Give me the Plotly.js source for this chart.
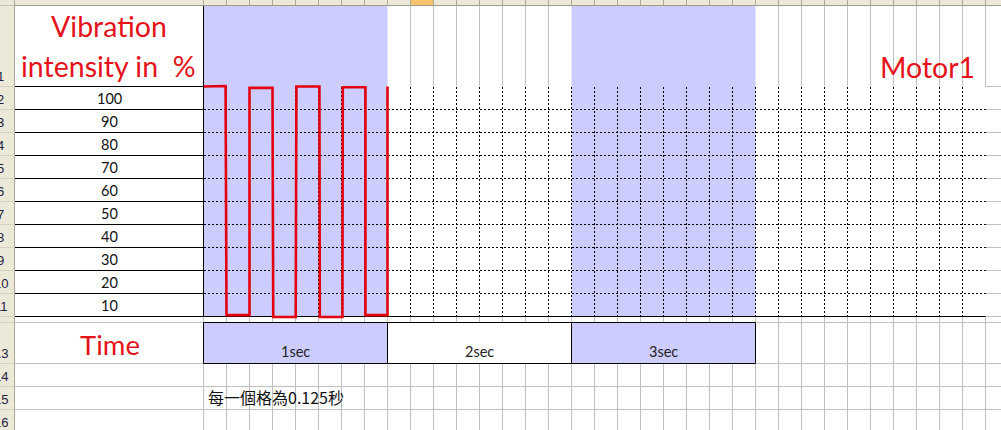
<!DOCTYPE html>
<html>
<head>
<meta charset="utf-8">
<script src="https://cdn.plot.ly/plotly-3.0.1.min.js"></script>
<style>
html,body{margin:0;padding:0;background:#ffffff;overflow:hidden;}
#chart{width:1001px;height:430px;}
</style>
</head>
<body>
<div id="chart"></div>
<script>
// ---------------- data ----------------
const intensityTicks = [100, 90, 80, 70, 60, 50, 40, 30, 20, 10];
const timeLabels = ['1sec', '2sec', '3sec'];
const timeSec = [0, 0.12, 0.125, 0.25, 0.25, 0.375, 0.379, 0.501, 0.505, 0.63, 0.632, 0.755, 0.757, 0.88, 0.88, 1.0, 1.0];
const intensityPct = [100, 100.2, 0.6, 0.6, 99.4, 99.4, -0.2, -0.2, 100, 100, -0.2, -0.2, 99.7, 99.7, 0.6, 0.6, 100];
const rowNumbers = [1, 2, 3, 4, 5, 6, 7, 8, 9, 10, 11, 12, 13, 14, 15, 16];
const yTitleLines = ['Vibration', 'intensity in\u00a0 %'];
const seriesName = 'Motor1';
const xTitle = 'Time';
const noteText = '每一個格為0.125秒';
const stepSec = 0.125;
const totalSec = 4.25;

// ---------------- geometry (pixels of the sheet) ----------------
const W = 1001, H = 430;
const GX0 = 203.5, COLW = 23, NCOL = Math.round(totalSec / stepSec);
const GY0 = 86.5, ROWH = 23, NROW = intensityTicks.length;
const GX1 = GX0 + COLW * NCOL;
const GY1 = GY0 + ROWH * NROW;
const HEADER_H = 5.5, ROWHDR_W = 14.5, COLA_C = 109;
const BOX_T = 322.5, BOX_B = 363.5;
const SEC_COLS = Math.round(1 / stepSec);
const px = x => x / W;
const py = y => 1 - y / H;

const GRAY = '#c0c0c0', LAV = '#ccccff', HDR = '#ece9d8', HDRLINE = '#aca899';
const RED = '#e5121b', INK = '#111111';

const shapes = [];
function line(x0, y0, x1, y1, color, w) {
  shapes.push({type: 'line', xref: 'paper', yref: 'paper', layer: 'below',
    x0: px(x0), y0: py(y0), x1: px(x1), y1: py(y1), line: {color: color, width: w || 1}});
}
function rect(x0, y0, x1, y1, fill) {
  shapes.push({type: 'rect', xref: 'paper', yref: 'paper', layer: 'below',
    x0: px(x0), y0: py(y0), x1: px(x1), y1: py(y1), fillcolor: fill, line: {width: 0}});
}
const colX = k => GX0 + COLW * k;

// Excel light gridlines
for (let k = 0; k <= NCOL + 1; k++) {
  const x = colX(k);
  line(x, GY1, x, H, GRAY);                      // lower rows
  const inLav = (k >= 0 && k <= SEC_COLS) || (k >= 2 * SEC_COLS && k <= 3 * SEC_COLS);
  if (!inLav) line(x, HEADER_H, x, GY0, GRAY);   // row 1
}
[BOX_T, BOX_B, 386.5, 409.5].forEach(y => line(ROWHDR_W, y, W, y, GRAY));
for (let j = 0; j <= NROW; j++) line(GX1, GY0 + ROWH * j, W, GY0 + ROWH * j, GRAY);

// lavender fills
rect(GX0, HEADER_H, colX(SEC_COLS), GY1, LAV);
rect(colX(2 * SEC_COLS), HEADER_H, colX(3 * SEC_COLS), GY1, LAV);
rect(GX0, BOX_T, colX(SEC_COLS), BOX_B, LAV);
rect(colX(SEC_COLS), BOX_T, colX(2 * SEC_COLS), BOX_B, '#ffffff');
rect(colX(2 * SEC_COLS), BOX_T, colX(3 * SEC_COLS), BOX_B, LAV);

// black borders
line(GX0, HEADER_H, GX0, GY1, '#000');
for (let j = 0; j < NROW; j++) line(ROWHDR_W, GY0 + ROWH * j, GX0, GY0 + ROWH * j, '#000');
line(ROWHDR_W, GY1, GX1, GY1, '#000');
line(GX0, BOX_T, colX(3 * SEC_COLS), BOX_T, '#000');
line(GX0, BOX_B, colX(3 * SEC_COLS), BOX_B, '#000');
for (let s = 0; s <= 3; s++) line(colX(s * SEC_COLS), BOX_T, colX(s * SEC_COLS), BOX_B, '#000');

// sheet headers
rect(0, 0, W, HEADER_H, HDR);
rect(colX(9), 0, colX(10), HEADER_H, '#f9c36e');
line(0, HEADER_H, W, HEADER_H, '#9d9b8e');
for (let k = 0; k <= NCOL + 1; k++) line(colX(k), 0, colX(k), HEADER_H, HDRLINE);
rect(0, HEADER_H, ROWHDR_W, H, HDR);
line(ROWHDR_W, 0, ROWHDR_W, H, HDRLINE);
const rowBottoms = [GY0];
for (let j = 1; j <= NROW; j++) rowBottoms.push(GY0 + ROWH * j);
rowBottoms.push(BOX_T, BOX_B, 386.5, 409.5, 432.5);
rowBottoms.forEach(y => line(0, y, ROWHDR_W, y, '#d4d0c4'));

// ---------------- text ----------------
const annotations = [];
const LATO = 0.387, NOTO = 0.38, LIB = 0.3465;
function txt(text, x, baseline, size, color, family, k, xanchor) {
  annotations.push({xref: 'paper', yref: 'paper', x: px(x), y: py(baseline - k * size),
    text: text, showarrow: false, xanchor: xanchor || 'center', yanchor: 'middle',
    borderpad: 0, borderwidth: 0, font: {family: family, size: size, color: color}});
}
rowNumbers.forEach((r, i) => {
  if (r === 12) return;
  txt(String(r), 0.5, rowBottoms[i] - 5, 13, '#202040', 'Liberation Sans', LIB, 'center');
});
intensityTicks.forEach((v, j) => txt(String(v), COLA_C, GY0 + ROWH * (j + 1) - 5.5, 14.5, INK, 'Lato', LATO));
txt(yTitleLines[0], COLA_C, 36.7, 28.5, RED, 'Lato', LATO);
txt(yTitleLines[1], COLA_C - 1, 76.7, 28.5, RED, 'Lato', LATO);
txt(seriesName, 975, 77.7, 28.5, RED, 'Lato', LATO, 'right');
txt(xTitle, COLA_C + 0.5, 355, 27.5, RED, 'Lato', LATO);
timeLabels.forEach((t, s) => txt(t, (colX(s * SEC_COLS) + colX((s + 1) * SEC_COLS)) / 2, 357, 14.5, '#222222', 'Lato', LATO));
txt(noteText, 207.5, 403, 16, INK, 'Noto Sans CJK TC', NOTO, 'left');

// ---------------- axes ----------------
const yPadLo = 4, yPadHi = 4, pxPerPct = ROWH * NROW / 100;
const layout = {
  width: W, height: H,
  margin: {l: 0, r: 0, t: 0, b: 0, pad: 0},
  paper_bgcolor: '#ffffff', plot_bgcolor: 'rgba(0,0,0,0)',
  showlegend: false, hovermode: false,
  xaxis2: {domain: [px(GX0), px(GX1)], range: [0, totalSec], anchor: 'y2',
    tickmode: 'linear', tick0: 0, dtick: stepSec, showgrid: true, gridcolor: '#000000', gridwidth: 1,
    griddash: '2px,2px', showticklabels: false, ticks: '', zeroline: false, showline: false, fixedrange: true},
  yaxis2: {domain: [py(GY1), py(GY0)], range: [0, 100], anchor: 'x2',
    tickmode: 'linear', tick0: 0, dtick: 10, showgrid: true, gridcolor: '#000000', gridwidth: 1,
    griddash: '2px,2px', showticklabels: false, ticks: '', zeroline: false, showline: false, fixedrange: true},
  xaxis3: {domain: [px(GX0), px(GX1)], range: [0, totalSec], anchor: 'y3', visible: false, fixedrange: true},
  yaxis3: {domain: [py(GY1 + yPadLo * pxPerPct), py(GY0 - yPadHi * pxPerPct)], range: [-yPadLo, 100 + yPadHi],
    anchor: 'x3', visible: false, fixedrange: true},
  shapes: shapes,
  annotations: annotations
};

const traces = [
  {x: [0, totalSec], y: [null, null], xaxis: 'x2', yaxis: 'y2', type: 'scatter', mode: 'lines', hoverinfo: 'skip'},
  {x: timeSec, y: intensityPct, xaxis: 'x3', yaxis: 'y3', type: 'scatter', mode: 'lines', name: seriesName,
    line: {color: '#e3000f', width: 2.6}, hoverinfo: 'skip'}
];

Plotly.newPlot('chart', traces, layout, {displayModeBar: false, staticPlot: true});
</script>
</body>
</html>
